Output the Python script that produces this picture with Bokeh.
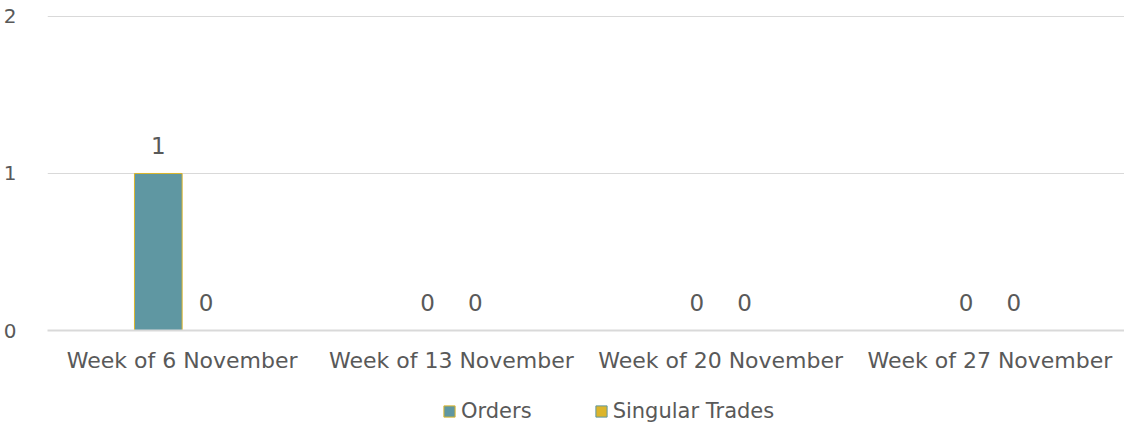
from bokeh.plotting import figure
from bokeh.layouts import column
from bokeh.models import ColumnDataSource, LabelSet, Range1d, FactorRange, FixedTicker, Legend
from bokeh.transform import dodge
from bokeh.core.properties import value
from bokeh.embed import file_html
from bokeh.resources import INLINE

weeks = ["Week of 6 November", "Week of 13 November", "Week of 20 November", "Week of 27 November"]
orders = [1, 0, 0, 0]
singular_trades = [0, 0, 0, 0]
y_ticks = [0, 1, 2]
series_names = ["Orders", "Singular Trades"]

FONT = "DejaVu Sans"
TXT = "#595959"
TEAL = "#5f97a2"
GOLD = "#dcb52b"

src = ColumnDataSource(dict(
    weeks=weeks, orders=orders, singular=singular_trades,
    orders_lbl=[str(v) for v in orders], singular_lbl=[str(v) for v in singular_trades],
))

H1 = 375
p = figure(x_range=FactorRange(*weeks), y_range=Range1d(0, 2.006),
           width=1124, height=H1, output_backend="svg", toolbar_location=None,
           min_border_left=39, min_border_right=0, min_border_top=15, min_border_bottom=H1 - 330)
p.outline_line_color = None
p.background_fill_color = "white"

w = 0.177
p.vbar(x=dodge("weeks", -w / 2, range=p.x_range), top="orders", width=w, source=src,
       fill_color=TEAL, line_color=GOLD, line_width=1)
p.vbar(x=dodge("weeks", w / 2, range=p.x_range), top="singular", width=w, source=src,
       fill_color=GOLD, line_color=TEAL, line_width=1)

for col, off in (("orders", -w / 2), ("singular", w / 2)):
    lbl = LabelSet(x=dodge("weeks", off, range=p.x_range), y=col, text=col + "_lbl", source=src,
                   text_align="center", text_baseline="middle", y_offset=28,
                   text_font=value(FONT), text_font_size="23px", text_color=TXT)
    p.add_layout(lbl)

p.xgrid.grid_line_color = None
p.ygrid.grid_line_color = "#d9d9d9"
p.ygrid.grid_line_width = 1
p.yaxis.ticker = FixedTicker(ticks=y_ticks)
p.yaxis.axis_line_color = None
p.yaxis.major_tick_line_color = None
p.yaxis.minor_tick_line_color = None
p.yaxis.major_label_standoff = 25
p.yaxis.major_label_text_font = FONT
p.yaxis.major_label_text_font_size = "20px"
p.yaxis.major_label_text_color = TXT

p.xaxis.axis_line_color = "#d9d9d9"
p.xaxis.axis_line_width = 2
p.xaxis.major_tick_line_color = None
p.xaxis.minor_tick_line_color = None
p.xaxis.major_label_standoff = 11
p.xaxis.major_label_text_font = FONT
p.xaxis.major_label_text_font_size = "22px"
p.xaxis.major_label_text_color = TXT

# legend strip below the chart
lg = figure(width=1124, height=48, output_backend="svg", toolbar_location=None,
            x_range=Range1d(0, 1), y_range=Range1d(0, 1),
            x_axis_location=None, y_axis_location=None,
            min_border_left=0, min_border_right=0, min_border_top=0, min_border_bottom=0)
lg.outline_line_color = None
lg.xgrid.visible = False
lg.ygrid.visible = False
hidden = ColumnDataSource(dict(x=[5], top=[5]))
d1 = lg.vbar(x="x", top="top", bottom=4, width=0.1, source=hidden, fill_color=TEAL, line_color=GOLD, line_width=1)
d2 = lg.vbar(x="x", top="top", bottom=4, width=0.1, source=hidden, fill_color=GOLD, line_color=TEAL, line_width=1)
legend = Legend(items=[(series_names[0], [d1]), (series_names[1], [d2])], orientation="horizontal",
                location=(395, 0), border_line_color=None, background_fill_alpha=0,
                label_text_font=FONT, label_text_font_size="21px", label_text_color=TXT,
                glyph_width=14, glyph_height=14, spacing=62, label_standoff=5, padding=0, margin=0)
lg.add_layout(legend)

layout = column(p, lg, spacing=0)
open("out.html", "w").write(file_html(layout, INLINE))
